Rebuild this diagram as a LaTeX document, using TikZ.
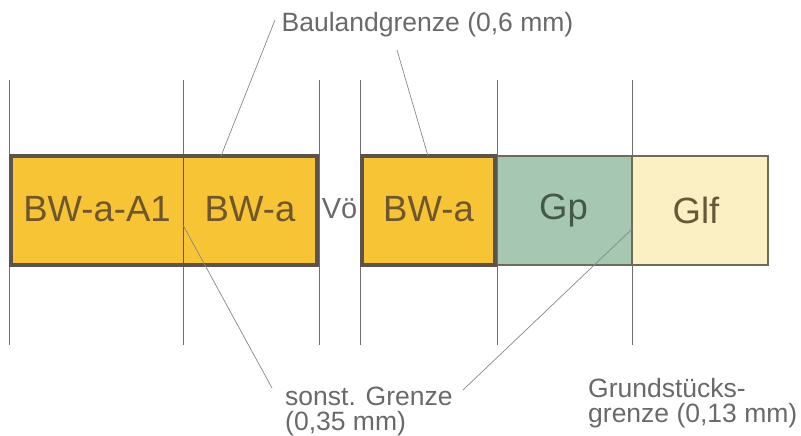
\documentclass[tikz,border=0pt]{standalone}
\usepackage{fontspec}
\setmainfont{Liberation Sans}
\definecolor{bwfill}{RGB}{246,196,52}
\definecolor{gpfill}{RGB}{166,200,178}
\definecolor{glffill}{RGB}{250,240,196}
\definecolor{bwtext}{RGB}{112,86,44}
\definecolor{gptext}{RGB}{68,88,74}
\definecolor{glftext}{RGB}{100,90,56}
\definecolor{thickc}{RGB}{92,84,76}
\definecolor{medc}{RGB}{110,108,88}
\definecolor{gridc}{RGB}{112,112,112}
\definecolor{leadc}{RGB}{135,135,135}
\definecolor{lblc}{RGB}{105,105,105}
\begin{document}
\begin{tikzpicture}[x=1pt,y=-1pt,
  area/.style={inner sep=0pt, outer sep=0pt, anchor=north west, minimum height=109pt},
  bigtxt/.style={font=\fontsize{36.5}{36.5}\selectfont},
  grid line/.style={draw=gridc, line width=0.8pt},
  bauland/.style={draw=thickc, line width=3.5pt, line join=miter},
  parcel/.style={draw=medc, line width=2pt},
  thinb/.style={draw=thickc, line width=1pt},
  leader/.style={draw=leadc, line width=0.7pt},
  lbl/.style={text=lblc, font=\fontsize{26.5}{26.5}\selectfont, inner sep=0pt}]
\useasboundingbox (0,0) rectangle (801,436);
% areas
\node[area, fill=bwfill, minimum width=172pt] (a1) at (11,156) {};
\node[area, fill=bwfill, minimum width=134pt] (a2) at (183,156) {};
\node[area, fill=bwfill, minimum width=133pt] (b1) at (362,156) {};
\node[area, fill=gpfill, minimum width=137pt] (gp) at (495,156) {};
\node[area, fill=glffill, minimum width=136pt] (glf) at (632,156) {};
% labels inside
\node[bigtxt, text=bwtext] at ([yshift=1pt]a1.center) {BW-a-A1};
\node[bigtxt, text=bwtext] at ([yshift=1pt]a2.center) {BW-a};
\node[bigtxt, text=bwtext] at ([yshift=1pt]b1.center) {BW-a};
\node[bigtxt, text=gptext] at (gp.center) {Gp};
\node[bigtxt, text=glftext] at ([xshift=-4pt]glf.center) {Glf};
\node[font=\fontsize{29}{29}\selectfont, text=lblc, anchor=base, inner sep=0pt] (vo) at (339.5,218) {Vö};
% grid lines
\foreach \x in {9,183,319,360,497,632}
  \draw[grid line] (\x,80) -- (\x,345);
% borders
\draw[parcel] (gp.north west) -- (glf.north east) -- (glf.south east) -- (gp.south west);
\draw[draw=medc, line width=1.4pt] (glf.north west) -- (glf.south west);
\draw[thinb] (a2.north west) -- (a2.south west);
\draw[bauland] (a1.north west) rectangle (a2.south east);
\draw[bauland] (b1.north west) rectangle (b1.south east);
% text labels
\node[lbl, anchor=base] (bl) at (427.5,32) {Baulandgrenze (0,6 mm)};
\node[lbl, anchor=base west] (sg1) at (285,405) {sonst. Grenze};
\node[lbl, anchor=base west] (sg2) at (285,430) {(0,35 mm)};
\node[lbl, anchor=base west] (gg1) at (588,397) {Grundstücks-};
\node[lbl, anchor=base west] (gg2) at (588,422) {grenze (0,13 mm)};
% leaders
\coordinate (blL) at (275,20);
\coordinate (blR) at (397,50);
\coordinate (sgL) at (272,388);
\coordinate (sgR) at (463,390);
\draw[leader] (blL) -- (221,156);
\draw[leader] (blR) -- (428,156);
\draw[leader] (sgL) -- (183,225);
\draw[leader] (sgR) -- (632,229);
\end{tikzpicture}
\end{document}
